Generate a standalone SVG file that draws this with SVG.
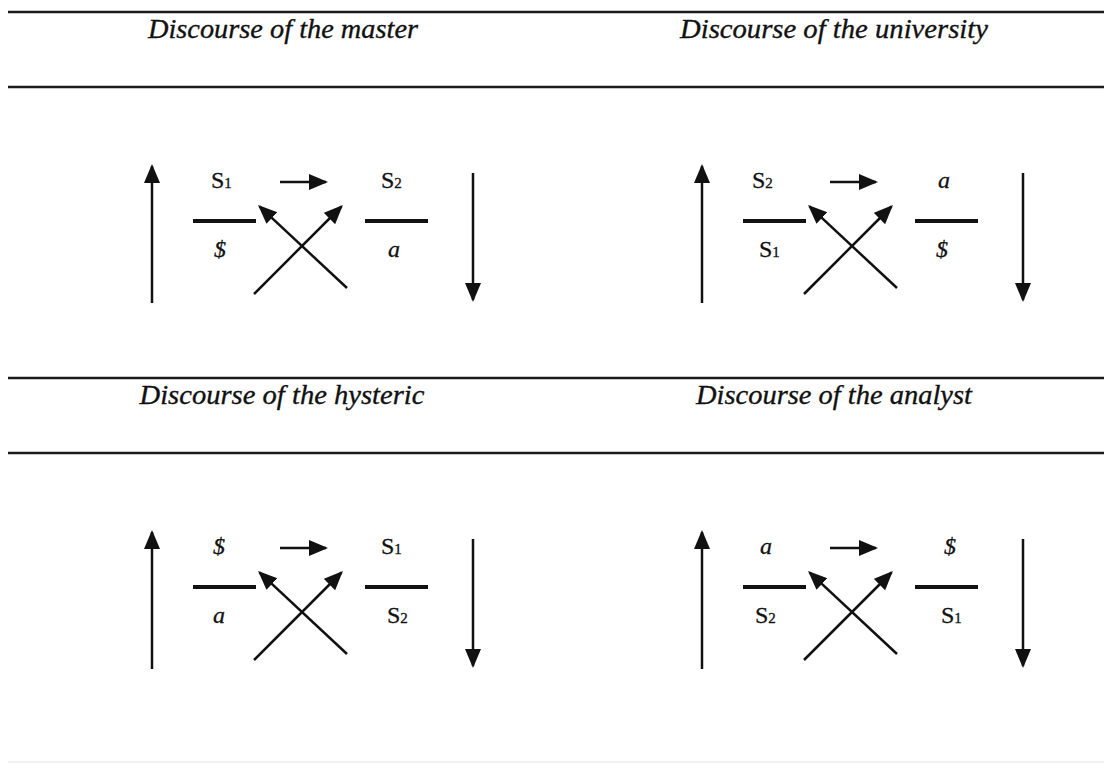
<svg xmlns="http://www.w3.org/2000/svg" width="1104" height="763" viewBox="0 0 1104 763">
<style>
.rule{stroke:#1a1a1a;stroke-width:2.5;fill:none}
.title{font-family:"Liberation Serif","Times New Roman",serif;font-style:italic;font-size:28px;fill:#111;stroke:#111;stroke-width:0.35;text-anchor:middle}
.sym{font-family:"Liberation Serif","Times New Roman",serif;font-size:24px;fill:#111;stroke:#111;stroke-width:0.3}
.it{font-style:italic;text-anchor:middle}
.sub{font-size:15px}
.bar{stroke:#111;stroke-width:4}
.arr{stroke:#111;stroke-width:2.5;fill:none;marker-end:url(#ah)}
</style>
<defs>
<marker id="ah" markerUnits="userSpaceOnUse" markerWidth="22" markerHeight="18" refX="17" refY="8" orient="auto">
<path d="M0,0 L19,8 L0,16 z" fill="#111"/>
</marker>
<g id="mark">
<line class="bar" x1="193" y1="221" x2="256" y2="221"/>
<line class="bar" x1="365" y1="221" x2="428" y2="221"/>
</g>
</defs>
<rect width="1104" height="763" fill="#fff"/>
<g id="rules">
<line class="rule" x1="8" y1="12" x2="1104" y2="12"/>
<line class="rule" x1="8" y1="87" x2="1104" y2="87"/>
<line class="rule" x1="8" y1="378" x2="1104" y2="378"/>
<line class="rule" x1="8" y1="453" x2="1104" y2="453"/>
<line x1="8" y1="762" x2="1104" y2="762" stroke="#eeeeee" stroke-width="1.5"/>
</g>
<g id="master">
<text class="title" x="283" y="38" textLength="270" lengthAdjust="spacingAndGlyphs">Discourse of the master</text>
<use href="#mark"/>
<text class="sym" x="211" y="188">S<tspan class="sub">1</tspan></text>
<text class="sym it" x="220" y="257">$</text>
<text class="sym" x="381" y="188">S<tspan class="sub">2</tspan></text>
<text class="sym it" x="394" y="257">a</text>
</g>
<g id="university">
<text class="title" x="834" y="38" textLength="308" lengthAdjust="spacingAndGlyphs">Discourse of the university</text>
<use href="#mark" x="550"/>
<text class="sym" x="752" y="188">S<tspan class="sub">2</tspan></text>
<text class="sym it" x="944" y="188">a</text>
<text class="sym" x="759" y="257">S<tspan class="sub">1</tspan></text>
<text class="sym it" x="942" y="257">$</text>
</g>
<g id="hysteric">
<text class="title" x="282" y="404" textLength="285" lengthAdjust="spacingAndGlyphs">Discourse of the hysteric</text>
<use href="#mark" y="366"/>
<text class="sym it" x="219" y="554">$</text>
<text class="sym" x="381" y="554">S<tspan class="sub">1</tspan></text>
<text class="sym it" x="219" y="623">a</text>
<text class="sym" x="387" y="623">S<tspan class="sub">2</tspan></text>
</g>
<g id="analyst">
<text class="title" x="834" y="404" textLength="276" lengthAdjust="spacingAndGlyphs">Discourse of the analyst</text>
<use href="#mark" x="550" y="366"/>
<text class="sym it" x="766" y="554">a</text>
<text class="sym it" x="950" y="554">$</text>
<text class="sym" x="755" y="623">S<tspan class="sub">2</tspan></text>
<text class="sym" x="941" y="623">S<tspan class="sub">1</tspan></text>
</g>
<g id="connectors">
<g id="conn-master">
<line class="arr" x1="152" y1="303" x2="152" y2="166"/>
<line class="arr" x1="473" y1="173" x2="473" y2="300"/>
<line class="arr" x1="280" y1="182" x2="326" y2="182"/>
<line class="arr" x1="254" y1="294" x2="341.5" y2="206.5"/>
<line class="arr" x1="347" y1="288" x2="259.5" y2="206.4"/>
</g>
<g id="conn-university" transform="translate(550,0)">
<line class="arr" x1="152" y1="303" x2="152" y2="166"/>
<line class="arr" x1="473" y1="173" x2="473" y2="300"/>
<line class="arr" x1="280" y1="182" x2="326" y2="182"/>
<line class="arr" x1="254" y1="294" x2="341.5" y2="206.5"/>
<line class="arr" x1="347" y1="288" x2="259.5" y2="206.4"/>
</g>
<g id="conn-hysteric" transform="translate(0,366)">
<line class="arr" x1="152" y1="303" x2="152" y2="166"/>
<line class="arr" x1="473" y1="173" x2="473" y2="300"/>
<line class="arr" x1="280" y1="182" x2="326" y2="182"/>
<line class="arr" x1="254" y1="294" x2="341.5" y2="206.5"/>
<line class="arr" x1="347" y1="288" x2="259.5" y2="206.4"/>
</g>
<g id="conn-analyst" transform="translate(550,366)">
<line class="arr" x1="152" y1="303" x2="152" y2="166"/>
<line class="arr" x1="473" y1="173" x2="473" y2="300"/>
<line class="arr" x1="280" y1="182" x2="326" y2="182"/>
<line class="arr" x1="254" y1="294" x2="341.5" y2="206.5"/>
<line class="arr" x1="347" y1="288" x2="259.5" y2="206.4"/>
</g>
</g>
</svg>
